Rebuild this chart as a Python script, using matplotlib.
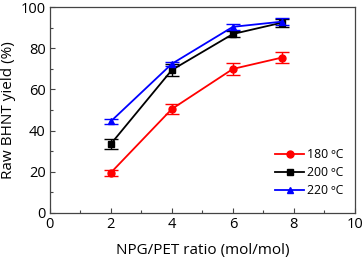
import matplotlib
matplotlib.use("Agg")
import matplotlib.pyplot as plt
from matplotlib.ticker import MultipleLocator
from matplotlib.lines import Line2D

plt.rcParams['font.family'] = ['Open Sans', 'DejaVu Sans']

x = [2, 4, 6, 7.6]
y180 = [19.5, 50.5, 70.0, 75.5]
e180 = [1.5, 2.2, 3.0, 2.7]
y200 = [33.5, 69.5, 87.0, 92.5]
e200 = [2.5, 2.8, 1.6, 2.0]
y220 = [44.5, 72.5, 90.5, 93.0]
e220 = [1.3, 1.0, 1.6, 1.6]
labels = ["180 ºC", "200 ºC", "220 ºC"]

fig = plt.figure(figsize=(3.64, 2.61), dpi=100)
ax = fig.add_axes([0.137, 0.185, 0.838, 0.787])

specs = [(y180, e180, 'red', 'o', 5), (y200, e200, 'black', 's', 4.5), (y220, e220, 'blue', '^', 5)]
handles = []
for (yy, ee, c, m, ms), lab in zip(specs, labels):
    ax.errorbar(x, yy, yerr=ee, color=c, marker=m, markersize=ms, lw=1.3,
                capsize=4.7, capthick=1.0, elinewidth=1.0)
    handles.append(Line2D([], [], color=c, marker=m, markersize=ms, lw=1.3, label=lab))

ax.set_xlim(0, 10)
ax.set_ylim(0, 100)
ax.xaxis.set_major_locator(MultipleLocator(2))
ax.xaxis.set_minor_locator(MultipleLocator(1))
ax.yaxis.set_major_locator(MultipleLocator(20))
ax.yaxis.set_minor_locator(MultipleLocator(10))
ax.tick_params(which='both', direction='in', top=False, right=False, labelsize=10.5, pad=3)
ax.tick_params(which='major', length=3.5, width=0.8, color='#444444')
ax.tick_params(which='minor', length=2, width=0.8, color='#444444')
for s in ax.spines.values():
    s.set_color('#444444')
    s.set_linewidth(0.9)

ax.set_xlabel("NPG/PET ratio (mol/mol)", fontsize=11, labelpad=8)
ax.set_ylabel("Raw BHNT yield (%)", fontsize=11, labelpad=3)

leg = ax.legend(handles=handles, loc='lower right', bbox_to_anchor=(0.986, 0.04), frameon=False,
                fontsize=8.8, handlelength=2.4, handletextpad=0.2, labelspacing=0.4,
                borderaxespad=0.2)

fig.savefig("out.png", dpi=100)
